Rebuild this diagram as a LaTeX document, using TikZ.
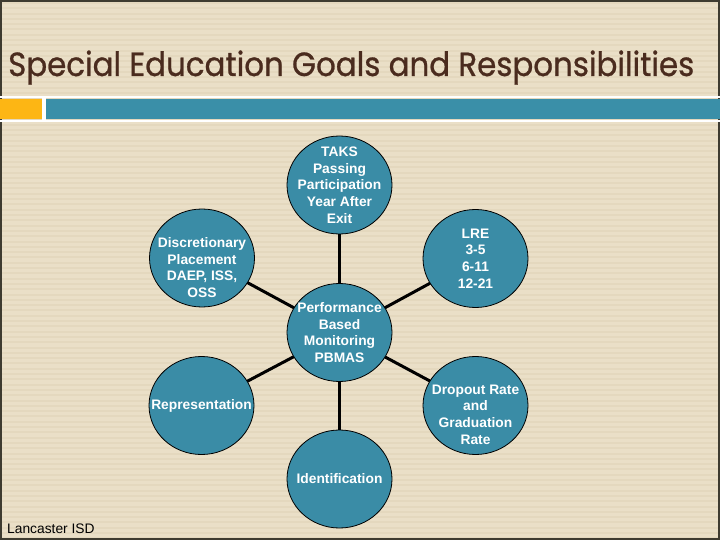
\documentclass[tikz,border=0pt]{standalone}
\usepackage{fontspec}
\setmainfont{Liberation Sans}
\newfontfamily\titlefont[FakeBold=0.8]{Poppins}
\usetikzlibrary{shapes.geometric}
\definecolor{bgbeige}{HTML}{EADFC7}
\definecolor{bgstripe}{HTML}{E4D8BE}
\definecolor{frame}{HTML}{3E3B30}
\definecolor{titlebrown}{HTML}{4A2B1E}
\definecolor{barorange}{HTML}{FDB614}
\definecolor{barteal}{HTML}{3A8FA8}
\definecolor{bubteal}{HTML}{3A8CA6}
\pgfdeclarelayer{back}
\pgfdeclarelayer{lines}
\pgfsetlayers{back,lines,main}
\tikzset{
  bub/.style={ellipse, draw=black, line width=0.8pt, fill=bubteal,
    minimum width=105pt, minimum height=98pt, inner sep=0pt},
  bubtxt/.style={text=white, align=center, inner sep=0pt,
    font=\fontsize{13.8}{16.75}\selectfont\bfseries},
  conn/.style={draw=black, line width=3pt}
}
\begin{document}
\begin{tikzpicture}[x=1pt,y=-1pt]
\useasboundingbox (0,0) rectangle (720,540);
\begin{pgfonlayer}{back}
  \fill[bgbeige] (0,0) rectangle (720,540);
  \foreach \yy in {2,7.3,...,540} \fill[bgstripe] (0,\yy) rectangle (720,\yy+2);
  \draw[frame, line width=2pt] (1,1) rectangle (719,539);
  \fill[white] (0,96) rectangle (720,98);
  \fill[white] (0,120) rectangle (720,122.5);
  \fill[barorange] (0,99.5) rectangle (42,119.5);
  \fill[white] (42,98) rectangle (46,120);
  \fill[barteal] (46,99.5) rectangle (720,119.5);
\end{pgfonlayer}
\node[anchor=base west, inner sep=0pt, text=titlebrown] (title) at (8,76)
  {\resizebox{686pt}{25.5pt}{\titlefont Special Education Goals and Responsibilities}};
\node[anchor=base west, inner sep=0pt, font=\fontsize{13.8}{16}\selectfont] (isd) at (7,533) {Lancaster ISD};

\node[bub] (pb) at (339.5,332.5) {};
\node[bubtxt] (pbt) at (pb.center) {Performance\\Based\\Monitoring\\PBMAS};
\node[bub] (taks) at (339.5,185) {};
\node[bubtxt] (takst) at (taks.center) {TAKS\\Passing\\Participation\\Year After\\Exit};
\node[bub] (disc) at (202,258) {};
\node[bubtxt] (disct) at ([yshift=-9.5pt]disc.center) {Discretionary\\Placement\\DAEP, ISS,\\OSS};
\node[bub] (lre) at (475.5,258.5) {};
\node[bubtxt] (lret) at (lre.center) {LRE\\3-5\\6-11\\12-21};
\node[bub] (rep) at (201.5,405.5) {};
\node[bubtxt] (rept) at (rep.center) {Representation};
\node[bub] (drop) at (475.5,405.5) {};
\node[bubtxt] (dropt) at ([yshift=-9pt]drop.center) {Dropout Rate\\and\\Graduation\\Rate};
\node[bub] (ident) at (339.5,479) {};
\node[bubtxt] (identt) at (ident.center) {Identification};

\begin{pgfonlayer}{lines}
  \foreach \n in {taks,disc,lre,rep,drop,ident}
    \draw[conn] (pb.center) -- (\n.center);
\end{pgfonlayer}
\end{tikzpicture}
\end{document}
